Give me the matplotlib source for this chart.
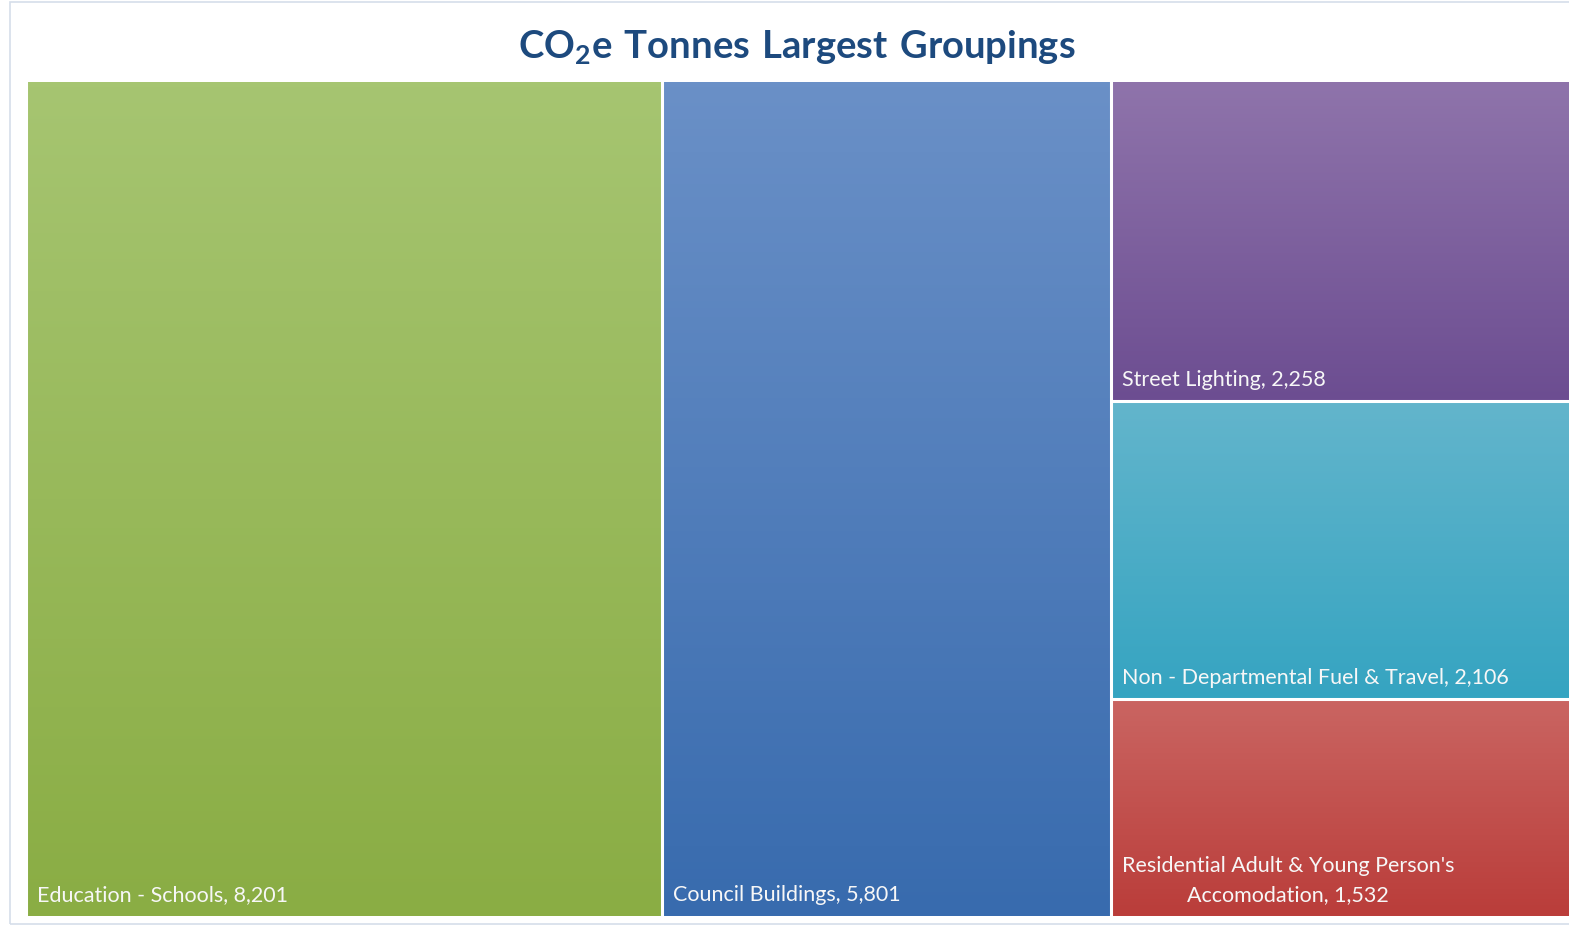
import matplotlib
matplotlib.use("Agg")
import matplotlib.pyplot as plt
import numpy as np
from matplotlib.colors import LinearSegmentedColormap
from matplotlib.patches import Rectangle

plt.rcParams['font.family'] = ['Lato', 'DejaVu Sans']
plt.rcParams['mathtext.fontset'] = 'custom'
plt.rcParams['mathtext.rm'] = 'Lato'
plt.rcParams['mathtext.bf'] = 'Lato:bold'

# ---- data ----
categories = ["Education - Schools", "Council Buildings", "Street Lighting",
              "Non - Departmental Fuel & Travel",
              "Residential Adult & Young Person's\nAccomodation"]
values = [8201, 5801, 2258, 2106, 1532]
value_labels = ["8,201", "5,801", "2,258", "2,106", "1,532"]
top_colors = ["#A6C571", "#6A90C7", "#8F74AB", "#63B5CC", "#CA6562"]
bottom_colors = ["#8AAD44", "#386BAE", "#6C4D91", "#35A4C1", "#BA3D3A"]

W, H = 1569, 928
fig = plt.figure(figsize=(W / 100, H / 100), dpi=100)
fig.patch.set_facecolor("white")

# outer chart frame (continues past the right edge)
fig.patches.append(Rectangle((10 / W, 3 / H), 1.2, (925 - 3) / H,
                             transform=fig.transFigure, fill=False,
                             edgecolor="#D5DEEA", lw=1.2))

L, R_layout, R_axes = 26, 1568, 1576
ax = fig.add_axes([L / W, (928 - 917) / H, (R_axes - L) / W, (917 - 83) / H])
total = sum(values)
xmax = total * (R_axes - L) / (R_layout - L)
ax.set_xlim(0, xmax)
ax.set_ylim(1, 0)
ax.axis("off")

# layout: first two as full-height columns, the rest stacked in the last column
rects = []
x = 0
for v in values[:2]:
    rects.append((x, 0, v, 1))
    x += v
rest = values[2:]
colw = sum(rest)
y = 0
for v in rest:
    h = v / colw
    rects.append((x, y, colw, h))
    y += h

grad = np.linspace(0, 1, 256).reshape(-1, 1)
for i, (rx, ry, rw, rh) in enumerate(rects):
    cmap = LinearSegmentedColormap.from_list("g", [top_colors[i], bottom_colors[i]])
    x1 = xmax if i >= 2 else rx + rw
    ax.imshow(grad, cmap=cmap, extent=(rx, x1, ry + rh, ry),
              aspect="auto", interpolation="bicubic", zorder=1)
    label = f"{categories[i]}, {value_labels[i]}"
    ax.annotate(label, xy=(rx, ry + rh), xycoords="data",
                xytext=(11, 12), textcoords="offset pixels",
                ha="left", va="bottom", color="#F7F7F7", fontsize=15.5,
                multialignment="center", linespacing=1.55, zorder=3)

# white separators
sep_kw = dict(color="white", lw=2.2, zorder=2)
ax.axvline(values[0], **sep_kw)
ax.axvline(values[0] + values[1], **sep_kw)
ax.axvline(0, **sep_kw)
yy = 0
for v in rest[:-1]:
    yy += v / colw
    ax.plot([values[0] + values[1], xmax], [yy, yy], solid_capstyle="butt", **sep_kw)

ax.set_xlim(0, xmax)
ax.set_ylim(1, 0)

fig.text(797 / W, 1 - 47 / H,
         r"$\mathbf{CO_{2}e\ Tonnes\ Largest\ Groupings}$",
         ha="center", va="center", color="#1D4A7E", fontsize=27.5)

fig.savefig("out.png", dpi=100)
